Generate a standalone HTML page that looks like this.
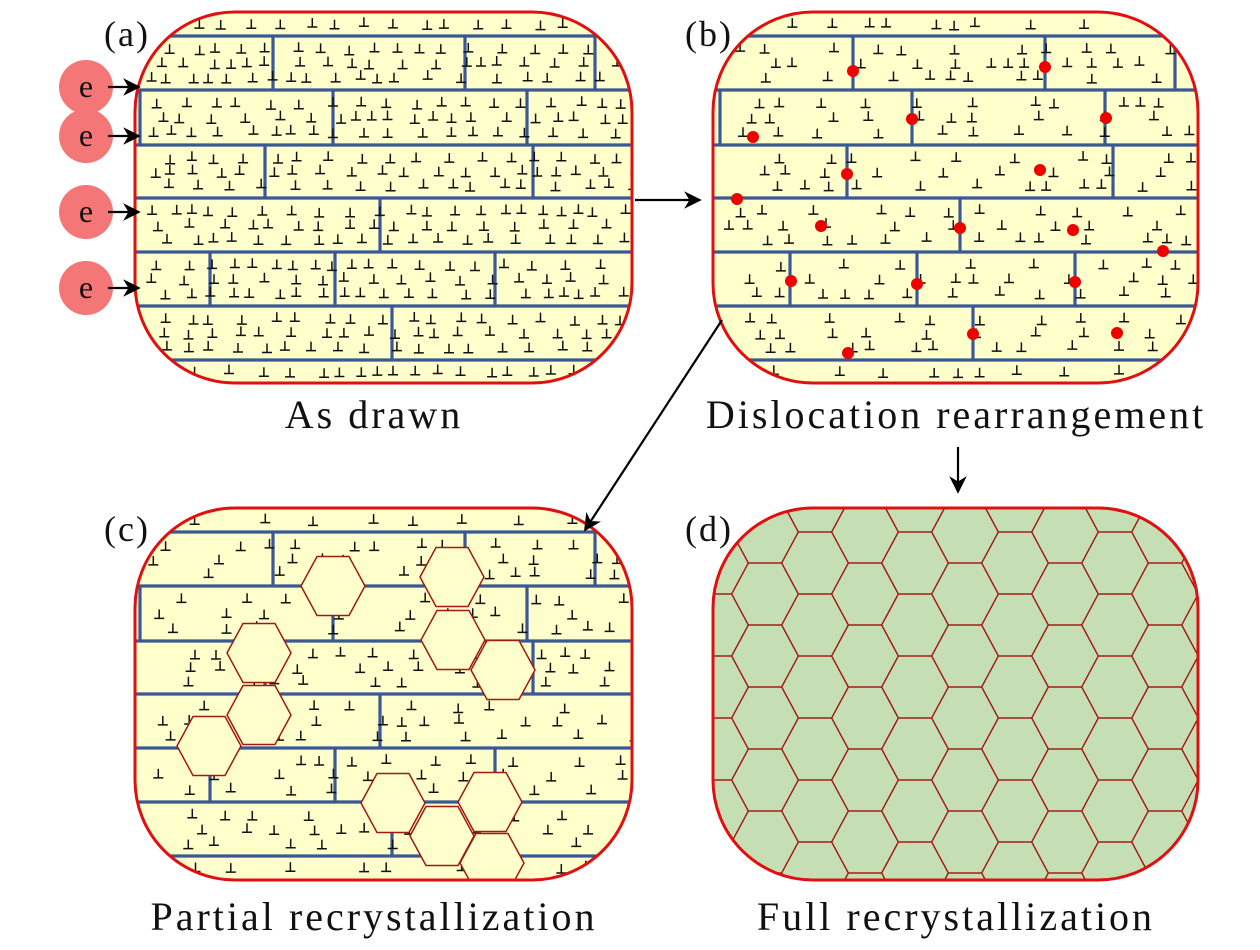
<!DOCTYPE html>
<html><head><meta charset="utf-8"><style>
html,body{margin:0;padding:0;background:#fff;width:1260px;height:950px;overflow:hidden}
svg{display:block;position:absolute;left:0;top:0}
text{font-family:"Liberation Serif",serif;fill:#111}
</style></head><body>
<svg id="s" width="1260" height="950" viewBox="0 0 1260 950" xmlns="http://www.w3.org/2000/svg">
<defs>
<clipPath id="ca"><rect x="135" y="12" width="497" height="371" rx="100"/></clipPath>
<clipPath id="cb"><rect x="713" y="12" width="485" height="371" rx="100"/></clipPath>
<clipPath id="cc"><rect x="135" y="508" width="497" height="372" rx="100"/></clipPath>
<clipPath id="cd"><rect x="713" y="508" width="485" height="372" rx="100"/></clipPath>
<marker id="ar" viewBox="0 0 10 10" refX="9" refY="5" markerWidth="8" markerHeight="8" orient="auto"><path d="M0,0 L10,5 L0,10 L3,5 z" fill="#000"/></marker>
</defs>
<rect x="135" y="12" width="497" height="371" rx="100" fill="#ffffcc"/>
<rect x="713" y="12" width="485" height="371" rx="100" fill="#ffffcc"/>
<rect x="135" y="508" width="497" height="372" rx="100" fill="#ffffcc"/>
<rect x="713" y="508" width="485" height="372" rx="100" fill="#c5deb4"/>
<g id="ga" clip-path="url(#ca)"></g>
<g id="gb" clip-path="url(#cb)"></g>
<g id="gc" clip-path="url(#cc)"></g>
<g id="gd" clip-path="url(#cd)"></g>
<rect x="135" y="12" width="497" height="371" rx="100" fill="none" stroke="#e01010" stroke-width="3"/>
<rect x="713" y="12" width="485" height="371" rx="100" fill="none" stroke="#e01010" stroke-width="3"/>
<rect x="135" y="508" width="497" height="372" rx="100" fill="none" stroke="#e01010" stroke-width="3"/>
<rect x="713" y="508" width="485" height="372" rx="100" fill="none" stroke="#e01010" stroke-width="3"/>
<g font-size="36" letter-spacing="2">
<text x="104" y="46">(a)</text>
<text x="685" y="46">(b)</text>
<text x="104" y="541">(c)</text>
<text x="685" y="541">(d)</text>
</g>
<g font-size="40" letter-spacing="3" text-anchor="middle">
<text x="374" y="428">As drawn</text>
<text x="956" y="428">Dislocation rearrangement</text>
<text x="374" y="930">Partial recrystallization</text>
<text x="956" y="930">Full recrystallization</text>
</g>
<g fill="#f47676">
<circle cx="86" cy="87" r="27"/><circle cx="86" cy="136" r="27"/><circle cx="86" cy="212" r="27"/><circle cx="86" cy="288" r="27"/>
</g>
<g font-size="32" text-anchor="middle">
<text x="86" y="97">e</text><text x="86" y="146">e</text><text x="86" y="222">e</text><text x="86" y="298">e</text>
</g>
<g stroke="#000" stroke-width="2.2" marker-end="url(#ar)">
<line x1="108" y1="87" x2="139" y2="87"/><line x1="108" y1="136" x2="139" y2="136"/>
<line x1="108" y1="212" x2="139" y2="212"/><line x1="108" y1="288" x2="139" y2="288"/>
<line x1="635" y1="200" x2="700" y2="200"/>
<line x1="722" y1="320" x2="585" y2="530"/>
<line x1="958" y1="447" x2="958" y2="492"/>
</g>
</svg>
<script>
var NS="http://www.w3.org/2000/svg";
function el(g,t,a){var e=document.createElementNS(NS,t);for(var k in a)e.setAttribute(k,a[k]);g.appendChild(e);return e;}
var seed=7;function rnd(){seed=(seed*16807)%2147483647;return (seed-1)/2147483646;}
var H=[36,90,145,198,252,306,360];
function grains(g,x0,x1,dy,verts,base,density){
  var B="#3a5896";
  H.forEach(function(y){el(g,"line",{x1:x0,y1:y+dy,x2:x1,y2:y+dy,stroke:B,"stroke-width":3.2});});
  verts.forEach(function(v){el(g,"line",{x1:v[0],y1:v[1]+dy,x2:v[0],y2:v[2]+dy,stroke:B,"stroke-width":3.2});});
  var d="";
  var rows=[12].concat(H);
  for(var r=0;r<rows.length;r++){
    var ya=rows[r],yb=(r+1<rows.length?rows[r+1]:383);
    var n=(r==0||r==rows.length-1)?1:3;
    for(var s=0;s<n;s++){
      var yy=ya+10+(yb-ya-12)*(s+0.5)/n;
      for(var x=x0;x<x1;){x+=base+rnd()*density;var y=yy+dy+(rnd()-0.5)*4;
        d+="M"+(x-5).toFixed(1)+","+y.toFixed(1)+"h10M"+x.toFixed(1)+","+y.toFixed(1)+"v-9";}
    }
  }
  el(g,"path",{d:d,stroke:"#111","stroke-width":1.5,fill:"none"});
}
function hex(g,cx,cy,s,h,fill,sw){
  var p=[[cx-s,cy],[cx-s/2,cy-h],[cx+s/2,cy-h],[cx+s,cy],[cx+s/2,cy+h],[cx-s/2,cy+h]].map(function(q){return q[0].toFixed(1)+","+q[1].toFixed(1)}).join(" ");
  el(g,"polygon",{points:p,fill:fill,stroke:"#a01a10","stroke-width":sw});}
var VA=[[273,36,90],[465,36,90],[595,36,90],[140,90,145],[333,90,145],[527,90,145],[265,145,198],[533,145,198],[380,198,252],[210,252,306],[335,252,306],[495,252,306],[392,306,360]];
grains(document.getElementById("ga"),135,632,0,VA,14,22);
var VB=[[853,36,90],[1045,36,90],[1175,36,90],[720,90,145],[912,90,145],[1105,90,145],[847,145,198],[1113,145,198],[960,198,252],[790,252,306],[917,252,306],[1075,252,306],[973,306,360]];
var gb=document.getElementById("gb");
grains(gb,713,1198,0,VB,16,55);
[[853,71],[1045,67],[912,119],[1106,118],[753,137],[847,174],[1040,170],[737,199],[821,226],[960,228],[1073,230],[1163,251],[791,281],[917,284],[1075,282],[973,334],[1117,333],[848,353]].forEach(function(p){el(gb,"circle",{cx:p[0],cy:p[1],r:6,fill:"#ee0000"});});
var gc=document.getElementById("gc");
grains(gc,135,632,496,VA,18,60);
[[333,586],[452,577],[453,640],[503,670],[259,653],[259,715],[209,746],[393,803],[442,836],[490,802],[492,863]].forEach(function(p){hex(gc,p[0],p[1],32,29.5,"#ffffcc",1.5);});
var gd=document.getElementById("gd");
for(var c=-2;c<12;c++){var cx=765+c*50;var off=(c%2===0)?0:-31;
  for(var r=-2;r<10;r++){hex(gd,cx,594+off+r*62,33.3,31,"none",1.3);}}
</script>
</body></html>
